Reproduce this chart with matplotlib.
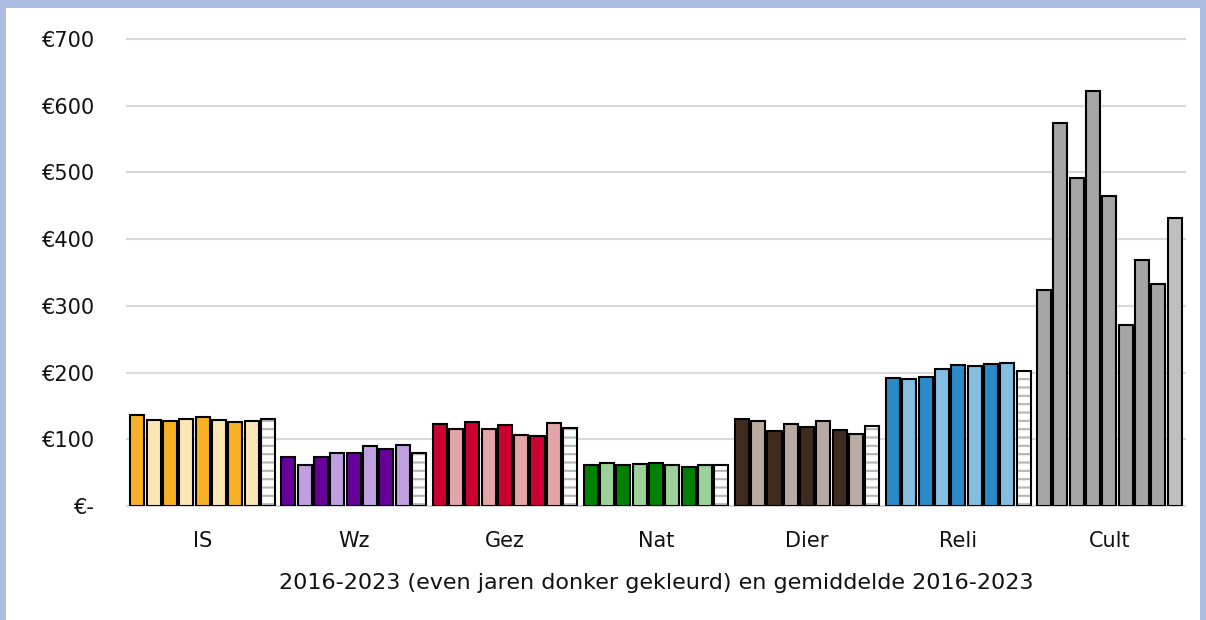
import matplotlib
matplotlib.use("Agg")
import matplotlib.pyplot as plt
from matplotlib.patches import Rectangle
import numpy as np

categories = ["IS", "Wz", "Gez", "Nat", "Dier", "Reli", "Cult"]
years = ["2016", "2017", "2018", "2019", "2020", "2021", "2022", "2023", "gem."]
values = {
    "IS":   [136, 129, 127, 131, 134, 129, 126, 127, 130],
    "Wz":   [74, 62, 74, 80, 80, 90, 85, 91, 80],
    "Gez":  [123, 116, 126, 115, 122, 106, 105, 124, 117],
    "Nat":  [61, 64, 62, 63, 65, 62, 59, 61, 62],
    "Dier": [130, 127, 113, 123, 118, 128, 114, 108, 120],
    "Reli": [192, 190, 194, 205, 212, 210, 213, 215, 203],
    "Cult": [324, 574, 491, 622, 465, 272, 368, 333, 432],
}
dark_colors = ["#f8b124", "#660099", "#cc0033", "#008000", "#3e2a1e", "#2a8ac8", "#a5a5a5"]
light_colors = ["#fde6b6", "#c0a0e0", "#e2a6a8", "#9dd19b", "#b8aca2", "#84bee0", "#a5a5a5"]
yticks = [0, 100, 200, 300, 400, 500, 600, 700]
ytick_labels = ["€-", "€100", "€200", "€300", "€400", "€500", "€600", "€700"]
xlabel = "2016-2023 (even jaren donker gekleurd) en gemiddelde 2016-2023"

plt.rcParams["hatch.linewidth"] = 1.5
FONT = "DejaVu Sans"
FS = 15

W, H = 1206, 620
fig = plt.figure(figsize=(W / 100, H / 100), dpi=100)
fig.patch.set_facecolor("#abbde0")
bg = Rectangle((6 / W, 0), (1200 - 6) / W, (H - 8) / H,
               transform=fig.transFigure, facecolor="white",
               edgecolor="none", zorder=-10)
fig.patches.append(bg)

ax = fig.add_axes([127 / W, (H - 506) / H, (1185 - 127) / W, (506 - 39) / H])
ax.set_zorder(5)
ax.set_facecolor("white")

step = 0.108
width = 0.093
n = len(years)
for ci, cat in enumerate(categories):
    vals = values[cat]
    for j, v in enumerate(vals):
        x = ci + 0.5 + (j - (n - 1) / 2) * step
        if j == n - 1:
            if cat == "Cult":
                ax.bar(x, v, width=width, color="#bfbfbf", edgecolor="black",
                       linewidth=1.5, zorder=3)
            else:
                ax.bar(x, v, width=width, color="white", edgecolor="#b5b5b5",
                       linewidth=0, hatch="--", zorder=3)
                ax.bar(x, v, width=width, fill=False, edgecolor="black",
                       linewidth=1.5, zorder=4)
        else:
            c = dark_colors[ci] if j % 2 == 0 else light_colors[ci]
            ax.bar(x, v, width=width, color=c, edgecolor="black",
                   linewidth=1.5, zorder=3)

ax.set_xlim(0, len(categories))
ax.set_ylim(0, 700)
ax.set_yticks(yticks)
ax.set_yticklabels(ytick_labels)
ax.set_xticks(np.arange(len(categories)) + 0.5)
ax.set_xticklabels(categories)
ax.grid(axis="y", color="#d9d9d9", linewidth=1.5, zorder=0)
for gl in ax.get_ygridlines():
    gl.set_clip_on(False)
ax.set_axisbelow(True)
for s in ["top", "right", "left"]:
    ax.spines[s].set_visible(False)
ax.spines["bottom"].set_color("#d9d9d9")
ax.spines["bottom"].set_linewidth(1.5)
ax.tick_params(axis="both", length=0, labelsize=FS, colors="#111111")
ax.tick_params(axis="y", pad=23)
ax.tick_params(axis="x", pad=18)
for lab in ax.get_xticklabels() + ax.get_yticklabels():
    lab.set_fontfamily(FONT)
ax.set_xlabel(xlabel, fontsize=16, family=FONT, labelpad=16, color="#111111")

fig.savefig("out.png", dpi=100, facecolor=fig.get_facecolor())
